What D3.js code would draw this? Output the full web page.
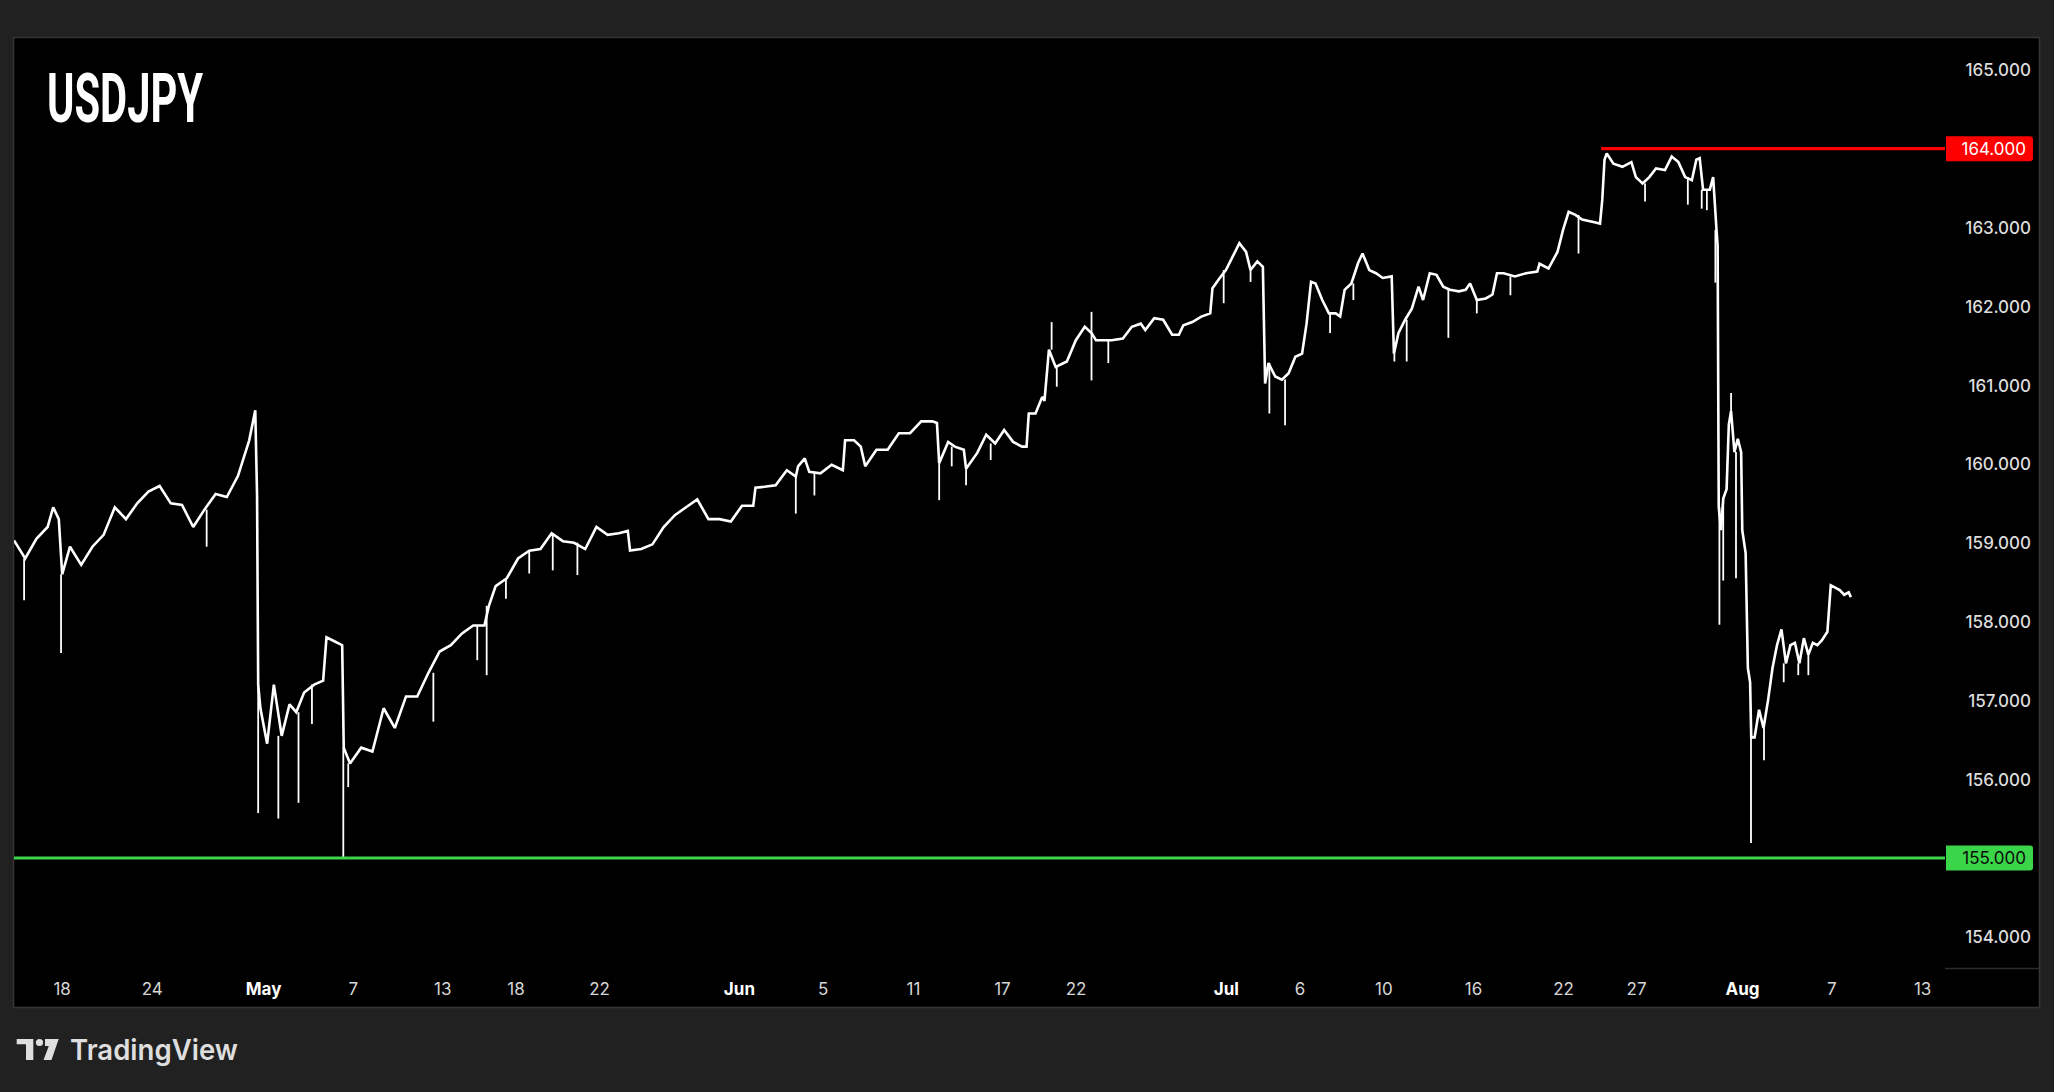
<!DOCTYPE html>
<html><head><meta charset="utf-8">
<script src="https://cdn.jsdelivr.net/npm/d3@7"></script>
<style>html,body{margin:0;padding:0;background:#212121;overflow:hidden}svg{display:block}</style>
</head><body><svg id="chart" width="2054" height="1092"></svg>
<script>
// ---- data (x = trading-session day index from the left edge of the chart) ----
const sessionDays = [
 0,0.5,1,1.5,1.75,2,2.15,2.5,3,3.5,4,4.5,5,5.5,6,6.5,7,7.5,8,8.5,9,9.5,10,10.5,10.77,10.85,10.9,
 11,11.3,11.6,11.95,12.3,12.6,12.95,13.4,13.8,13.95,14.3,14.65,14.72,
 15,15.5,16,16.5,17,17.5,18,18.5,19,19.5,20,20.5,21,21.2,21.5,22,22.5,23,23.5,24,24.5,25,25.5,26,26.5,27,27.4,27.5,28,28.5,29,29.5,30,30.5,31,31.5,32,
 32.5,33,33.1,33.5,34,34.5,34.9,35,35.3,35.5,36,36.5,37,37.1,37.5,37.8,38,38.5,39,39.5,40,40.5,41,41.2,41.3,41.7,42,42.4,42.5,43,43.4,43.8,44.2,44.6,45,45.2,45.3,45.6,45.9,
 46,46.2,46.5,47,47.4,47.8,48.1,48.3,48.8,49,49.5,49.9,50.3,50.5,50.9,51.3,51.7,52,52.2,52.6,53,53.4,53.5,53.8,54.1,54.4,54.7,55,55.2,55.5,55.75,55.85,56,56.3,56.6,56.9,57.2,57.5,57.7,57.9,58.1,58.4,58.7,59,59.2,59.4,59.7,60,60.2,60.5,60.8,61.1,61.5,61.6,61.8,62.1,62.4,62.7,62.9,63.2,63.5,63.8,64.1,64.5,64.8,65,65.3,65.7,66,66.2,
 66.5,67,67.5,68,68.1,68.5,68.9,69.15,69.4,69.7,70,70.5,70.8,70.9,71,71.1,71.4,71.8,72.2,72.4,72.7,73,73.3,73.7,74,74.3,74.6,74.9,75.1,75.25,75.4,75.7,75.85,76,
 76.05,76.1,76.2,76.3,76.45,76.55,76.65,76.8,76.95,77.1,77.15,77.3,77.4,77.5,77.55,77.7,77.9,78.1,78.3,78.5,78.7,78.9,79.1,79.3,79.5,79.7,79.9,80.1,80.3,80.5,80.7,80.95,81.1,81.3,81.5,81.7,81.9,82
];
const usdjpy = [
 159.03,158.80,159.05,159.20,159.45,159.30,158.60,158.95,158.72,158.95,159.10,159.45,159.30,159.50,159.65,159.72,159.50,159.48,159.20,159.42,159.62,159.58,159.85,160.30,160.68,159.60,157.20,
 156.90,156.45,157.20,156.55,156.95,156.85,157.10,157.20,157.25,157.80,157.75,157.70,156.40,
 156.20,156.40,156.35,156.90,156.65,157.05,157.05,157.35,157.62,157.70,157.85,157.95,157.95,158.20,158.45,158.55,158.80,158.90,158.92,159.12,159.02,159.00,158.92,159.20,159.10,159.12,159.15,158.90,158.92,158.98,159.20,159.35,159.45,159.55,159.30,159.30,159.27,
 159.47,159.47,159.70,159.71,159.73,159.92,159.84,159.97,160.07,159.90,159.88,159.99,159.92,160.30,160.30,160.22,159.97,160.18,160.18,160.39,160.39,160.54,160.54,160.52,160.01,160.28,160.22,160.18,159.94,160.14,160.37,160.26,160.43,160.28,160.22,160.22,160.64,160.64,160.85,
 160.80,161.45,161.23,161.30,161.57,161.74,161.66,161.57,161.57,161.57,161.59,161.74,161.78,161.70,161.85,161.83,161.64,161.64,161.76,161.80,161.87,161.91,162.23,162.35,162.46,162.63,162.80,162.69,162.46,162.57,162.50,161.02,161.28,161.11,161.07,161.15,161.36,161.40,161.78,162.31,162.29,162.08,161.91,161.91,161.87,162.21,162.29,162.55,162.67,162.46,162.42,162.36,162.38,161.40,161.66,161.83,161.97,162.25,162.08,162.42,162.40,162.25,162.21,162.19,162.21,162.29,162.08,162.10,162.15,162.42,
 162.42,162.38,162.42,162.44,162.54,162.48,162.69,162.97,163.20,163.16,163.10,163.07,163.05,163.35,163.86,163.94,163.81,163.77,163.83,163.64,163.56,163.64,163.75,163.73,163.90,163.83,163.64,163.60,163.86,163.88,163.48,163.48,163.64,162.97,
 162.77,159.45,159.16,159.56,159.68,160.50,160.67,160.15,160.32,160.15,159.16,158.87,157.41,157.23,156.53,156.53,156.88,156.65,157.00,157.41,157.70,157.90,157.47,157.70,157.73,157.47,157.79,157.58,157.73,157.70,157.76,157.87,158.46,158.43,158.40,158.34,158.37,158.31
];
// wick extremes (spikes)
const wickDays = [0.45,2.1,8.6,10.9,11.8,12.7,13.3,14.7,14.92,18.72,20.68,21.1,21.96,23.0,24.05,25.15,34.9,35.73,41.3,41.86,42.5,43.6,46.32,46.55,48.1,48.1,48.85,54.0,55.2,56.04,56.74,58.75,59.79,61.62,62.17,64.03,65.3,66.8,69.84,72.81,74.72,75.34,75.57,75.95,76.13,76.3,76.65,76.87,77.54,78.12,79.0,79.65,80.1];
const wickPrices = [158.27,157.6,158.95,155.57,155.5,155.7,156.7,155.0,155.9,156.73,157.51,157.32,158.29,158.61,158.65,158.59,159.37,159.6,159.54,159.97,159.73,160.05,161.8,160.98,161.06,161.93,161.28,162.04,162.31,160.64,160.49,161.66,162.08,161.3,161.3,161.6,161.91,162.14,162.67,163.33,163.29,163.24,163.22,162.3,157.96,158.52,160.9,158.55,155.19,156.24,157.23,157.32,157.32];

const tickDays = [2.125,6.15,11.12,15.12,19.12,22.39,26.12,32.36,36.1,40.13,44.1,47.39,54.1,57.39,61.13,65.13,69.15,72.41,77.14,81.12,85.18];
const tickLabels = ["18","24","May","7","13","18","22","Jun","5","11","17","22","Jul","6","10","16","22","27","Aug","7","13"];
const monthLabels = ["May","Jun","Jul","Aug"];
// 164 and 155 are shown by the level tags instead
const priceTicks = [154,156,157,158,159,160,161,162,163,165];

const levelPrices = [164, 155];
const levelStartDays = [70.85, 0];
const levelNames = ["resistance","support"];

// ---- drawing ----
const svg = d3.select('#chart');
const plot = {left:14, right:1945, top:38, bottom:968};
const x = d3.scaleLinear().domain([0, 86.2]).range([plot.left, plot.right]);
const y = d3.scaleLinear().domain([154, 165]).range([936.8, 69.9]);

svg.append('rect').attr('width',2054).attr('height',1092).attr('fill','#212121');
svg.append('rect').attr('x',13.5).attr('y',37.5).attr('width',2026).attr('height',970)
  .attr('fill','#000').attr('stroke','#343434').attr('stroke-width',1.6);

svg.append('defs').append('clipPath').attr('id','clip')
  .append('rect').attr('x',plot.left).attr('y',plot.top).attr('width',plot.right-plot.left).attr('height',plot.bottom-plot.top);

// title
svg.append('text').attr('x',47).attr('y',122).text('USDJPY')
  .attr('font-family','Roboto, "Noto Sans", sans-serif')
  .attr('font-weight',700).attr('font-size',68).attr('fill','#fff')
  .attr('textLength',156).attr('lengthAdjust','spacingAndGlyphs');

// price axis
const yAxis = d3.axisRight(y).tickValues(priceTicks).tickFormat(d3.format('.3f')).tickSize(0).tickPadding(0);
const gy = svg.append('g').attr('transform','translate(2031,0)').call(yAxis);
gy.select('.domain').remove();
gy.selectAll('text').attr('text-anchor','end').attr('x',0).attr('dy','0.35em')
  .attr('font-family','Inter, "Noto Sans", sans-serif').attr('font-size',17).attr('font-weight',500).attr('fill','#dcdcdc');
svg.append('line').attr('x1',plot.right).attr('x2',2039).attr('y1',968.5).attr('y2',968.5)
  .attr('stroke','#2c2c2c').attr('stroke-width',1.5);

// time axis
const xAxis = d3.axisBottom(x).tickValues(tickDays).tickFormat((d,i)=>tickLabels[i]).tickSize(0).tickPadding(0);
const gx = svg.append('g').attr('transform','translate(0,989)').call(xAxis);
gx.select('.domain').remove();
gx.selectAll('text').attr('y',0).attr('dy','0.35em')
  .attr('font-family','Inter, "Noto Sans", sans-serif').attr('font-size',17)
  .attr('font-weight',(d,i)=>monthLabels.includes(tickLabels[i])?'bold':'normal')
  .attr('fill',(d,i)=>monthLabels.includes(tickLabels[i])?'#ffffff':'#d6d6d6');

// price series
const pts = sessionDays.map((d,i)=>({d, v: usdjpy[i]}));
const gp = svg.append('g').attr('clip-path','url(#clip)');
const bis = d3.bisector(p=>p.d).left;
wickDays.forEach((wd,i)=>{
  let k = Math.min(bis(pts, wd), pts.length-1);
  if (k>0 && Math.abs(pts[k-1].d-wd) < Math.abs(pts[k].d-wd)) k = k-1;
  gp.append('line').attr('x1',x(wd)).attr('x2',x(wd)).attr('y1',y(pts[k].v)).attr('y2',y(wickPrices[i]))
    .attr('stroke','#fff').attr('stroke-width',1.8);
});
gp.append('path').datum(pts)
  .attr('d', d3.line().x(p=>x(p.d)).y(p=>y(p.v)))
  .attr('fill','none').attr('stroke','#fff').attr('stroke-width',2.6).attr('stroke-linejoin','miter').attr('stroke-miterlimit',2);

// horizontal levels with labels
const levelColors = {resistance:'#ff0000', support:'#3ad548'};
const levelText = {resistance:'#ffffff', support:'#0a0a0a'};
levelPrices.forEach((lp,i)=>{
  const name = levelNames[i];
  svg.append('line').attr('x1',x(levelStartDays[i])).attr('x2',plot.right)
    .attr('y1',y(lp)).attr('y2',y(lp)).attr('stroke',levelColors[name]).attr('stroke-width',3.2);
  svg.append('path')
    .attr('d',`M${plot.right+1},${y(lp)-12.5} H2030 Q2033,${y(lp)-12.5} 2033,${y(lp)-9.5} V${y(lp)+9.5} Q2033,${y(lp)+12.5} 2030,${y(lp)+12.5} H${plot.right+1} Z`)
    .attr('fill',levelColors[name]);
  svg.append('text').attr('x',2026).attr('y',y(lp)).attr('dy','0.35em').attr('text-anchor','end')
    .attr('font-family','Inter, "Noto Sans", sans-serif').attr('font-size',17)
    .attr('fill',levelText[name]).text(d3.format('.3f')(lp));
});

// TradingView logo
const logo = svg.append('g').attr('fill','#dedede');
logo.append('path').attr('d','M16.7,1039 H33.3 V1060 H26 V1044.3 H16.7 Z');
logo.append('circle').attr('cx',39.5).attr('cy',1042.5).attr('r',3.6);
logo.append('path').attr('d','M45,1039 H58.7 L51.5,1060 H43.5 L48.8,1046 H45 Z');
logo.append('text').attr('x',70).attr('y',1060).text('TradingView')
  .attr('font-family','Inter, "Noto Sans", sans-serif').attr('font-weight',600).attr('font-size',29)
  .attr('textLength',168).attr('lengthAdjust','spacingAndGlyphs');
</script></body></html>
